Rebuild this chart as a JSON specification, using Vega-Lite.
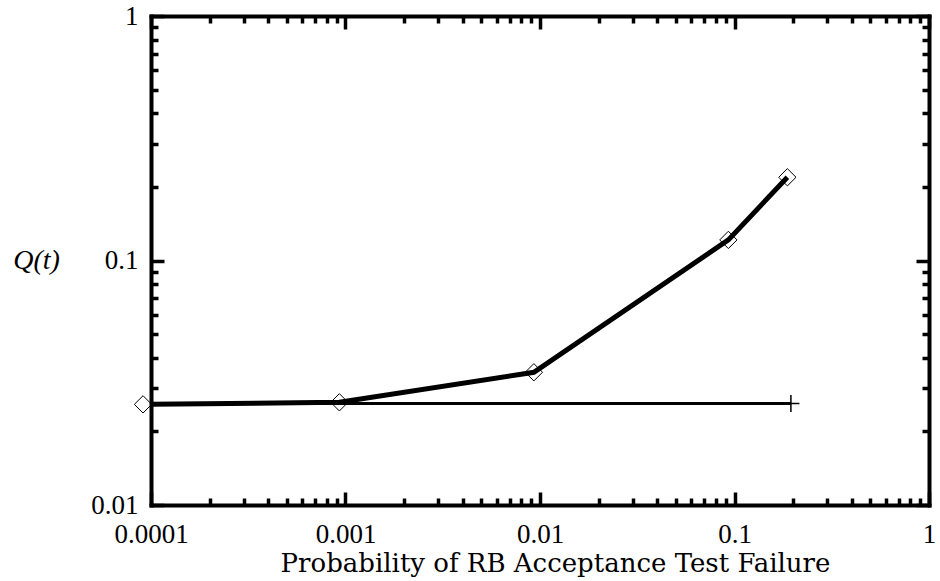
{
  "$schema": "https://vega.github.io/schema/vega-lite/v6.json",
  "width": 778,
  "height": 489,
  "autosize": {"type": "none"},
  "padding": {"left": 151, "top": 16, "right": 11, "bottom": 76},
  "background": "white",
  "config": {
    "view": {"stroke": null},
    "axis": {
      "domainColor": "black",
      "domainWidth": 4,
      "domainCap": "square",
      "tickColor": "black",
      "tickWidth": 3.5,
      "grid": false,
      "labelFont": "Liberation Serif",
      "labelFontSize": 27,
      "labelColor": "black",
      "labelFlush": false,
      "labelOverlap": false,
      "labelBound": false,
      "titleColor": "black",
      "titleFontWeight": "normal"
    }
  },
  "datasets": {
    "lineA": [
      {"x": 0.000091, "y": 0.0258},
      {"x": 0.00093, "y": 0.0263},
      {"x": 0.0093, "y": 0.0349},
      {"x": 0.093, "y": 0.1214},
      {"x": 0.187, "y": 0.219}
    ],
    "lineB": [
      {"x": 0.000091, "y": 0.026},
      {"x": 0.195, "y": 0.026}
    ],
    "plusB": [
      {"x": 0.195, "y": 0.026}
    ]
  },
  "resolve": {"axis": {"x": "independent", "y": "independent"}},
  "layer": [
    {
      "data": {"name": "lineB"},
      "mark": {"type": "line", "color": "black", "strokeWidth": 3, "clip": true},
      "encoding": {
        "x": {
          "field": "x", "type": "quantitative",
          "scale": {"type": "log", "domain": [0.0001, 1], "nice": false},
          "axis": {
            "orient": "bottom",
            "values": [0.0001,0.0002,0.0003,0.0004,0.0005,0.0006,0.0007,0.0008,0.0009,0.001,0.002,0.003,0.004,0.005,0.006,0.007,0.008,0.009,0.01,0.02,0.03,0.04,0.05,0.06,0.07,0.08,0.09,0.1,0.2,0.3,0.4,0.5,0.6,0.7,0.8,0.9,1],
            "format": ".4~f",
            "labelExpr": "abs(log(datum.value)/LN10 - round(log(datum.value)/LN10)) < 0.001 ? datum.label : ''",
            "tickSize": {"condition": {"test": "abs(log(datum.value)/LN10 - round(log(datum.value)/LN10)) < 0.001", "value": -13}, "value": -7},
            "labelBaseline": "alphabetic",
            "labelAlign": "center",
            "labelPadding": 50,
            "title": "Probability of RB Acceptance Test Failure",
            "titleFont": "DejaVu Serif",
            "titleFontSize": 26,
            "titleX": 404,
            "titleY": 66,
            "titleAlign": "center",
            "titleBaseline": "alphabetic"
          }
        },
        "y": {
          "field": "y", "type": "quantitative",
          "scale": {"type": "log", "domain": [0.01, 1], "nice": false},
          "axis": {
            "orient": "left",
            "values": [0.01,0.02,0.03,0.04,0.05,0.06,0.07,0.08,0.09,0.1,0.2,0.3,0.4,0.5,0.6,0.7,0.8,0.9,1],
            "format": ".2~f",
            "labelExpr": "abs(log(datum.value)/LN10 - round(log(datum.value)/LN10)) < 0.001 ? datum.label : ''",
            "tickSize": {"condition": {"test": "abs(log(datum.value)/LN10 - round(log(datum.value)/LN10)) < 0.001", "value": -13}, "value": -7},
            "labelBaseline": "middle",
            "labelAlign": "right",
            "labelPadding": 26,
            "title": "Q(t)",
            "titleFont": "Liberation Serif",
            "titleFontStyle": "italic",
            "titleFontSize": 28,
            "titleAngle": 0,
            "titleX": -115,
            "titleY": 244,
            "titleAlign": "center",
            "titleBaseline": "middle"
          }
        }
      }
    },
    {
      "data": {"name": "lineA"},
      "mark": {"type": "line", "color": "black", "strokeWidth": 5, "clip": true},
      "encoding": {
        "x": {
          "field": "x", "type": "quantitative",
          "scale": {"type": "log", "domain": [0.0001, 1], "nice": false},
          "axis": {
            "orient": "top",
            "values": [0.0001,0.0002,0.0003,0.0004,0.0005,0.0006,0.0007,0.0008,0.0009,0.001,0.002,0.003,0.004,0.005,0.006,0.007,0.008,0.009,0.01,0.02,0.03,0.04,0.05,0.06,0.07,0.08,0.09,0.1,0.2,0.3,0.4,0.5,0.6,0.7,0.8,0.9,1],
            "labels": false,
            "title": null,
            "tickSize": {"condition": {"test": "abs(log(datum.value)/LN10 - round(log(datum.value)/LN10)) < 0.001", "value": -13}, "value": -7}
          }
        },
        "y": {
          "field": "y", "type": "quantitative",
          "scale": {"type": "log", "domain": [0.01, 1], "nice": false},
          "axis": {
            "orient": "right",
            "values": [0.01,0.02,0.03,0.04,0.05,0.06,0.07,0.08,0.09,0.1,0.2,0.3,0.4,0.5,0.6,0.7,0.8,0.9,1],
            "labels": false,
            "title": null,
            "tickSize": {"condition": {"test": "abs(log(datum.value)/LN10 - round(log(datum.value)/LN10)) < 0.001", "value": -13}, "value": -7}
          }
        }
      }
    },
    {
      "data": {"name": "lineA"},
      "mark": {"type": "point", "shape": "diamond", "filled": false, "color": "black", "strokeWidth": 1, "size": 300, "opacity": 1},
      "encoding": {
        "x": {"field": "x", "type": "quantitative", "axis": null},
        "y": {"field": "y", "type": "quantitative", "axis": null}
      }
    },
    {
      "data": {"name": "plusB"},
      "mark": {"type": "point", "shape": "M-1,0L1,0M0,-1L0,1", "filled": false, "color": "black", "strokeWidth": 1.5, "size": 289, "opacity": 1},
      "encoding": {
        "x": {"field": "x", "type": "quantitative", "axis": null},
        "y": {"field": "y", "type": "quantitative", "axis": null}
      }
    }
  ]
}
